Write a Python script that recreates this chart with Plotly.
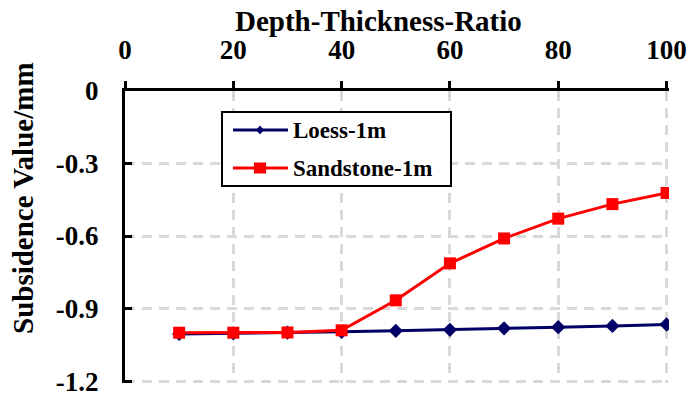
import plotly.graph_objects as go

# Depth-thickness ratio (x) and subsidence values (mm) for the two strata
ratio = [10, 20, 30, 40, 50, 60, 70, 80, 90, 100]
loess_1m = [-1.005, -1.003, -1.0, -0.996, -0.992, -0.988, -0.982, -0.977, -0.972, -0.966]
sandstone_1m = [-1.0, -1.0, -0.999, -0.99, -0.866, -0.713, -0.61, -0.528, -0.468, -0.422]

series_names = ["Loess-1m", "Sandstone-1m"]
series_colors = ["#000066", "#ff0000"]

x_ticks = [0, 20, 40, 60, 80, 100]
y_ticks = [0, -0.3, -0.6, -0.9, -1.2]
y_tick_text = ["0", "-0.3", "-0.6", "-0.9", "-1.2"]

FONT = "Liberation Serif"
W, H = 692, 396
L, R, T, B = 125, 23, 91, 13
PW, PH = W - L - R, H - T - B


def px(xp):
    """Horizontal pixel -> paper fraction."""
    return (xp - L) / PW


def py(yp):
    """Vertical pixel (from top) -> paper fraction."""
    return (H - B - yp) / PH


fig = go.Figure()
fig.add_trace(go.Scatter(
    x=ratio, y=loess_1m, name=series_names[0], mode="lines+markers",
    line=dict(color=series_colors[0], width=3),
    marker=dict(symbol="diamond", size=11, color=series_colors[0]),
))
fig.add_trace(go.Scatter(
    x=ratio, y=sandstone_1m, name=series_names[1], mode="lines+markers",
    line=dict(color=series_colors[1], width=3),
    marker=dict(symbol="square", size=12, color=series_colors[1]),
))

# Boxed legend drawn with shapes and annotations
shapes = [dict(type="rect", xref="paper", yref="paper",
               x0=px(222), x1=px(451), y0=py(186), y1=py(112),
               line=dict(color="black", width=2), fillcolor="white", layer="above")]
annotations = []
rows = [130, 168]
for name, color, row, kind in zip(series_names, series_colors, rows, ["diamond", "square"]):
    shapes.append(dict(type="line", xref="paper", yref="paper",
                       x0=px(233), x1=px(288), y0=py(row), y1=py(row),
                       line=dict(color=color, width=3), layer="above"))
    cx = 260
    if kind == "diamond":
        hw, hh = 4, 4.5
        path = (f"M{px(cx - hw)},{py(row)} L{px(cx)},{py(row - hh)} "
                f"L{px(cx + hw)},{py(row)} L{px(cx)},{py(row + hh)} Z")
    else:
        hw, hh = 6, 5.5
        path = (f"M{px(cx - hw)},{py(row - hh)} L{px(cx + hw)},{py(row - hh)} "
                f"L{px(cx + hw)},{py(row + hh)} L{px(cx - hw)},{py(row + hh)} Z")
    shapes.append(dict(type="path", xref="paper", yref="paper", path=path,
                       fillcolor=color, line=dict(color=color, width=0), layer="above"))
    annotations.append(dict(xref="paper", yref="paper", x=px(291), y=py(row),
                            xanchor="left", yanchor="middle", showarrow=False,
                            text=f"<b>{name}</b>",
                            font=dict(family=FONT, size=23, color="black")))

# Axis titles
annotations.append(dict(xref="paper", yref="paper", x=px(378), y=py(21),
                        xanchor="center", yanchor="middle", showarrow=False,
                        text="<b>Depth-Thickness-Ratio</b>",
                        font=dict(family=FONT, size=29, color="black")))
annotations.append(dict(xref="paper", yref="paper", x=px(23), y=py(198),
                        xanchor="center", yanchor="middle", showarrow=False,
                        textangle=-90, text="<b>Subsidence Value/mm</b>",
                        font=dict(family=FONT, size=29, color="black")))

fig.update_layout(
    width=W, height=H,
    margin=dict(l=L, r=R, t=T, b=B, autoexpand=False),
    paper_bgcolor="white", plot_bgcolor="white",
    font=dict(family=FONT, color="black", size=19),
    showlegend=False,
    shapes=shapes,
    annotations=annotations,
    xaxis=dict(
        side="top", range=[0, 100.45], tickvals=x_ticks, automargin=False,
        ticks="outside", ticklen=7, tickwidth=3, tickcolor="black",
        showline=True, linecolor="black", linewidth=3,
        showgrid=True, gridcolor="#d9d9d9", gridwidth=2.5, griddash="10px,7px",
        zeroline=False, ticklabelstandoff=11, ticklabeloverflow="allow",
        tickfont=dict(family=FONT, size=27, weight="bold"),
    ),
    yaxis=dict(
        range=[-1.208, 0], tickvals=y_ticks, ticktext=y_tick_text, automargin=False,
        ticks="inside", ticklen=7, tickwidth=3, tickcolor="black",
        showline=True, linecolor="black", linewidth=3,
        showgrid=True, gridcolor="#d9d9d9", gridwidth=2.5, griddash="10px,7px",
        zeroline=False, ticklabelstandoff=18, ticklabeloverflow="allow",
        tickfont=dict(family=FONT, size=27, weight="bold"),
    ),
)

fig.write_html("out.html")
